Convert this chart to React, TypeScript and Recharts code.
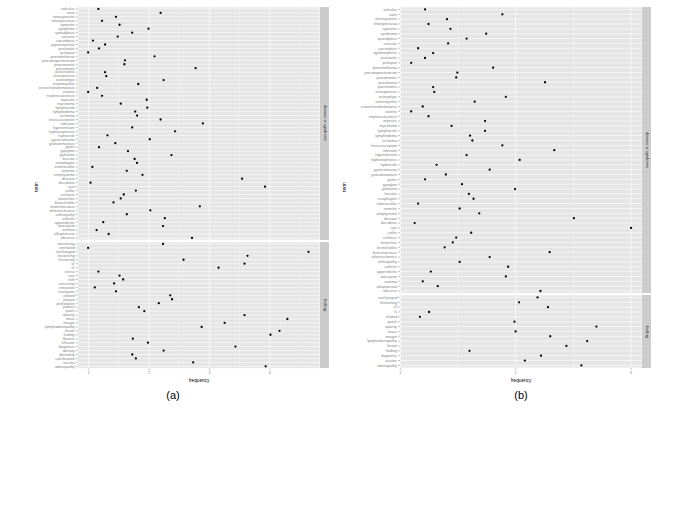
import React from 'react';
import { ScatterChart, Scatter, XAxis, YAxis, CartesianGrid, ReferenceLine } from 'recharts';

// terms of the "disease or syndrome" facet, top to bottom (same in both plots)
const diseaseTerms = [
  'volvulus', 'varix', 'tenosynovitis', 'telangiectasia', 'synovitis', 'syndrome', 'spondylosis',
  'sinusitis', 'sarcoidosis', 'pyelonephritis', 'prostatitis', 'prolapse', 'pneumothorax',
  'pneumoperitoneum', 'pneumonitis', 'pneumonia', 'pancreatitis', 'osteoporosis', 'osteophyte',
  'osteomyelitis', 'osteochondromatosis', 'osteitis', 'nephrocalcinosis', 'myositis', 'mycetoma',
  'lymphocele', 'lymphedema', 'ischemia', 'intussusception', 'infection', 'hypertension',
  'hydronephrosis', 'hydrocele', 'gynecomastia', 'granulomatosis', 'goiter', 'ganglion',
  'gallstone', 'fasciitis', 'esophagitis', 'enterocolitis', 'enteritis', 'emphysema', 'disease',
  'decubitus', 'cyst', 'colitis', 'cirrhosis', 'bronchitis', 'bronchiolitis', 'bronchiectasis',
  'atherosclerosis', 'arthropathy', 'arthritis', 'appendicitis', 'aneurysm', 'anemia',
  'alkaptonuria', 'abscess',
];

const findingTermsA = [
  'worsening', 'unrelated', 'unchanged', 'thickening', 'thickened', 't2', 't1', 'stress', 'size',
  'shift', 'sensitivity', 'retraction', 'resorption', 'related', 'plaque', 'perforation', 'pattern',
  'patch', 'opacity', 'mass', 'margin', 'lymphadenopathy', 'lesion', 'finding', 'fibrosis',
  'effusion', 'diagnosis', 'density', 'deformity', 'calcification', 'ascites', 'adenopathy',
];

const findingTermsB = [
  'unchanged', 'thickening', 't2', 't1', 'related', 'patch', 'opacity', 'mass', 'margin',
  'lymphadenopathy', 'lesion', 'finding', 'diagnosis', 'ascites', 'adenopathy',
];

// (a) frequencies
const diseaseFreqA = [
  1.16, 2.19, 1.45, 1.22, 1.51, 1.99, 1.72, 1.48, 1.07, 1.27, 1.17, 0.99, 2.09, 1.6, 1.59, 2.77,
  1.27, 1.29, 2.24, 1.82, 1.14, 0.99, 1.22, 1.96, 1.53, 1.97, 1.77, 1.8, 2.19, 2.89, 1.72, 2.43,
  1.31, 2.01, 1.44, 1.17, 1.65, 2.37, 1.76, 1.8, 1.06, 1.63, 1.89, 3.54, 1.03, 3.92, 1.78, 1.58,
  1.53, 1.41, 2.84, 2.02, 1.63, 2.26, 1.24, 2.23, 1.13, 1.33, 2.71,
];
const findingFreqA = [
  2.23, 0.99, 4.64, 3.63, 2.57, 3.58, 3.15, 1.16, 1.51, 1.57, 1.42, 1.1, 1.45, 2.35, 2.38, 2.16,
  1.83, 1.92, 3.58, 4.29, 3.25, 2.87, 4.16, 4.01, 1.73, 1.98, 3.43, 2.24, 1.72, 1.78, 2.73, 3.93,
];

// (b) frequencies
const diseaseFreqB = [
  1.215, 1.885, 1.405, 1.245, 1.435, 1.745, 1.575, 1.415, 1.155, 1.285, 1.215, 1.095, 1.805,
  1.495, 1.485, 2.255, 1.285, 1.295, 1.915, 1.645, 1.195, 1.095, 1.245, 1.735, 1.445, 1.735,
  1.605, 1.625, 1.885, 2.335, 1.575, 2.035, 1.315, 1.775, 1.395, 1.215, 1.535, 1.995, 1.595,
  1.635, 1.155, 1.515, 1.685, 2.505, 1.125, 3.0, 1.615, 1.485, 1.455, 1.385, 2.295, 1.775,
  1.515, 1.935, 1.265, 1.915, 1.195, 1.325, 2.215,
];
const findingFreqB = [
  2.19, 2.03, 2.28, 1.25, 1.17, 1.99, 2.7, 2.0, 2.3, 2.62, 2.44, 1.6, 2.22, 2.08, 2.57,
];

const ticksA = [1, 2, 3, 4];
const minorA = [1.5, 2.5, 3.5, 4.5];
const ticksB = [1, 2, 3];
const minorB = [1.5, 2.5];

const FONT = '"Liberation Sans", Arial, sans-serif';
const AXIS_GREY = '#7F7F7F';

const dot = (p: any) => <circle cx={p.cx} cy={p.cy} r={1.15} fill="#000" />;

type FacetProps = {
  terms: string[];
  values: number[];
  left: number;
  top: number;
  width: number;
  height: number;
  axisWidth: number;
  domain: [number, number];
  ticks: number[];
  minor: number[];
  showX?: boolean;
};

function Facet({ terms, values, left, top, width, height, axisWidth, domain, ticks, minor, showX }: FacetProps) {
  const pts = values.map((v, i) => ({ x: v, y: i })).filter((p) => p.x != null);
  const xh = showX ? 9 : 0;
  return (
    <div style={{ position: 'absolute', left, top }}>
      <ScatterChart width={width} height={height + xh} margin={{ top: 0, right: 0, bottom: 0, left: 0 }}>
        <CartesianGrid fill="#E5E5E5" stroke="#FFFFFF" strokeWidth={0.6} />
        {minor.map((m) => (
          <ReferenceLine key={m} x={m} stroke="#F2F2F2" strokeWidth={0.5} />
        ))}
        <XAxis
          type="number"
          dataKey="x"
          domain={domain}
          ticks={ticks}
          allowDataOverflow
          hide={!showX}
          height={xh}
          axisLine={false}
          tickSize={2}
          tickMargin={1}
          tickLine={{ stroke: AXIS_GREY, strokeWidth: 0.5 }}
          tick={{ fontSize: 3.8, fill: AXIS_GREY }}
        />
        <YAxis
          type="number"
          dataKey="y"
          domain={[-0.5, terms.length - 0.5]}
          ticks={terms.map((_, i) => i)}
          tickFormatter={(i: number) => terms[i]}
          interval={0}
          reversed
          allowDataOverflow
          width={axisWidth}
          axisLine={false}
          tickSize={2}
          tickMargin={1}
          tickLine={{ stroke: AXIS_GREY, strokeWidth: 0.5 }}
          tick={{ fontSize: 3.8, fill: AXIS_GREY }}
        />
        <Scatter data={pts} isAnimationActive={false} shape={dot} />
      </ScatterChart>
    </div>
  );
}

function Strip({ left, top, height, text }: { left: number; top: number; height: number; text: string }) {
  return (
    <div style={{ position: 'absolute', left, top, width: 9, height, background: '#CCCCCC' }}>
      <div
        style={{
          position: 'absolute', left: 4.5, top: height / 2, transform: 'translate(-50%, -50%) rotate(90deg)',
          fontSize: 3.9, whiteSpace: 'nowrap', color: '#1A1A1A',
        }}
      >
        {text}
      </div>
    </div>
  );
}

function Label({ x, y, text, size, rotate }: { x: number; y: number; text: string; size: number; rotate?: boolean }) {
  return (
    <div
      style={{
        position: 'absolute', left: x, top: y, whiteSpace: 'nowrap', fontSize: size, color: '#000',
        transform: `translate(-50%, -50%)${rotate ? ' rotate(-90deg)' : ''}`,
      }}
    >
      {text}
    </div>
  );
}

export default function App() {
  // (a): panel x 77.7..320, rows 3.948px
  const rowA = 3.948;
  const topA = diseaseTerms.length * rowA;
  const botA = findingTermsA.length * rowA;
  // (b): panel x 400..642, rows 4.855px
  const rowB = 4.855;
  const topB = diseaseTerms.length * rowB;
  const botB = findingTermsB.length * rowB;
  const y0 = 6.7;
  const gap = 2;

  return (
    <div style={{ position: 'absolute', left: 0, top: 0, width: 675, height: 506, background: '#fff', fontFamily: FONT }}>
      {/* (a) */}
      <Facet terms={diseaseTerms} values={diseaseFreqA} left={0} top={y0} width={320} height={topA}
        axisWidth={77.7} domain={[0.817, 4.83]} ticks={ticksA} minor={minorA} />
      <Facet terms={findingTermsA} values={findingFreqA} left={0} top={y0 + topA + gap} width={320} height={botA}
        axisWidth={77.7} domain={[0.817, 4.83]} ticks={ticksA} minor={minorA} showX />
      <Strip left={320} top={y0} height={topA} text="disease or syndrome" />
      <Strip left={320} top={y0 + topA + gap} height={botA} text="finding" />
      <Label x={36} y={187} text="term" size={4.7} rotate />
      <Label x={199} y={379.5} text="frequency" size={4.7} />
      <Label x={173} y={395} text="(a)" size={11} />

      {/* (b) */}
      <Facet terms={diseaseTerms} values={diseaseFreqB} left={330} top={y0} width={312} height={topB}
        axisWidth={70} domain={[0.998, 3.095]} ticks={ticksB} minor={minorB} />
      <Facet terms={findingTermsB} values={findingFreqB} left={330} top={y0 + topB + gap} width={312} height={botB}
        axisWidth={70} domain={[0.998, 3.095]} ticks={ticksB} minor={minorB} showX />
      <Strip left={642} top={y0} height={topB} text="disease or syndrome" />
      <Strip left={642} top={y0 + topB + gap} height={botB} text="finding" />
      <Label x={344} y={187} text="term" size={4.7} rotate />
      <Label x={521} y={379.5} text="frequency" size={4.7} />
      <Label x={521} y={395} text="(b)" size={11} />
    </div>
  );
}
